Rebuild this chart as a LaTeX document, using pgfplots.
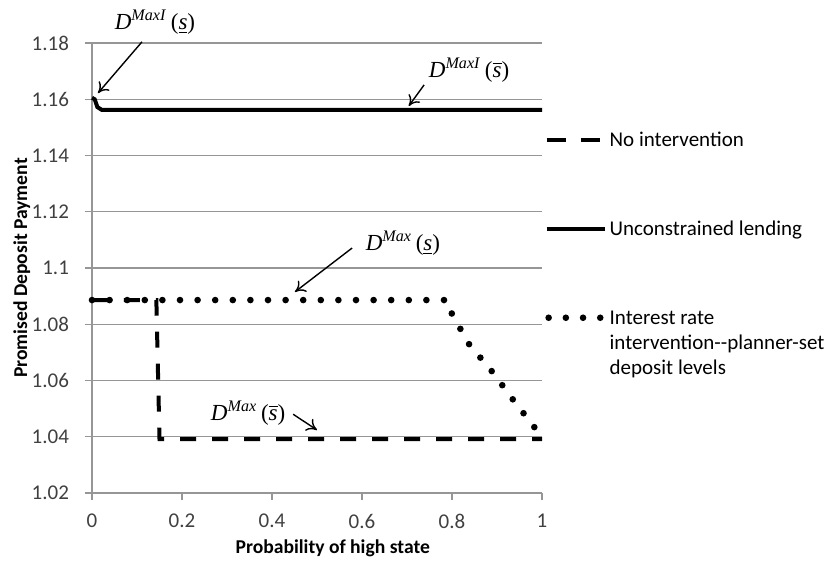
\documentclass[border=0pt]{standalone}
\usepackage{pgfplots}
\pgfplotsset{compat=1.18}
\usepackage{fontspec}
\setmainfont{Carlito}
\newfontfamily\tnr{Liberation Serif}
\usetikzlibrary{arrows.meta}
\definecolor{gridgray}{RGB}{150,150,150}
\definecolor{ticktext}{RGB}{64,64,64}
\newcommand{\dmax}[2]{{\tnr\textit{D}\textsuperscript{\textit{#1}}\,(#2)}}

\begin{document}
\begin{tikzpicture}
\useasboundingbox (-46pt,-35pt) rectangle (367pt,246.5pt);
\begin{axis}[
  at={(0,0)}, anchor=south west,
  scale only axis, width=225pt, height=225pt,
  xmin=0, xmax=1, ymin=1.02, ymax=1.18,
  axis lines*=left,
  axis line style={gridgray, line width=0.7pt, -},
  xtick={0,0.2,0.4,0.6,0.8,1},
  ytick={1.02,1.04,1.06,1.08,1.1,1.12,1.14,1.16,1.18},
  tick align=outside, major tick length=3.5pt,
  tick style={gridgray, line width=0.7pt},
  ymajorgrids, grid style={gridgray, line width=0.7pt},
  ticklabel style={font=\fontsize{10.5}{12}\selectfont, text=ticktext},
  xticklabel style={yshift=-3.5pt},
  yticklabel style={xshift=-4.5pt},
  /pgf/number format/assume math mode=true,
  xlabel={Probability of high state},
  ylabel={Promised Deposit Payment},
  label style={font=\fontsize{9.8}{12}\selectfont\bfseries},
  xlabel style={at={(axis description cs:0.535,-0.122)}, anchor=center},
  ylabel style={at={(axis description cs:-0.156,0.5)}, anchor=center, rotate=0},
  clip=false,
  legend style={at={(rel axis cs:1.005,0.813)}, anchor=north west,
    draw=none, fill=none, inner sep=0pt, row sep=31pt,
    font=\fontsize{10.5}{12.5}\selectfont,
    cells={anchor=base west},
    nodes={text height=8pt, text depth=2.5pt, inner sep=1.5pt},
    /tikz/column sep=0pt},
]
\addplot[black, line width=2pt, dash pattern=on 8pt off 8pt,
  legend image code/.code={\draw[black, line width=2pt, dash pattern=on 9.5pt off 7.5pt] (0pt,3.4pt) -- (27pt,3.4pt);}]
  coordinates {(0,1.0886) (0.143,1.0886) (0.150,1.0392) (1,1.0392)};
\addlegendentry{No intervention}
\addplot[black, line width=2pt,
  legend image code/.code={\draw[black, line width=2pt] (0pt,3.4pt) -- (29pt,3.4pt);}]
  coordinates {(0,1.1605) (0.006,1.1600) (0.012,1.1572) (0.022,1.1562) (1,1.1562)};
\addlegendentry{Unconstrained lending}
\addplot[black, line width=3.3pt, line cap=round, dash pattern=on 0pt off 8.8pt,
  legend image code/.code={\draw[black, line width=3.3pt, line cap=round, dash pattern=on 0pt off 8.6pt] (1pt,3.4pt) -- (28pt,3.4pt);}]
  coordinates {(0,1.0886) (0.79,1.0886) (0.80,1.0836) (0.838,1.0729) (0.89,1.0630) (0.936,1.0531) (0.984,1.0432) (1,1.0395)};
\addlegendentry{\begin{tabular}[t]{@{}l@{}}Interest rate\\intervention-{}-planner-set\\deposit levels\end{tabular}}

\begin{scope}[font=\fontsize{11.5}{13}\selectfont]
\node at (axis cs:0.14,1.1875) {\dmax{MaxI}{\underline{\textit{s}}}};
\node at (axis cs:0.838,1.1704) {\dmax{MaxI}{$\overline{\mbox{\textit{s}}}$}};
\node at (axis cs:0.691,1.1089) {\dmax{Max}{\underline{\textit{s}}}};
\node at (axis cs:0.347,1.0484) {\dmax{Max}{$\overline{\mbox{\textit{s}}}$}};
\end{scope}
\begin{scope}[-{To[length=5pt,width=7pt]}, line width=0.7pt]
\draw (axis cs:0.111,1.1804) -- (axis cs:0.0133,1.1622);
\draw (axis cs:0.738,1.1651) -- (axis cs:0.704,1.1576);
\draw (axis cs:0.578,1.1071) -- (axis cs:0.451,1.0915);
\draw (axis cs:0.447,1.0480) -- (axis cs:0.500,1.0424);
\end{scope}
\end{axis}
\end{tikzpicture}
\end{document}
